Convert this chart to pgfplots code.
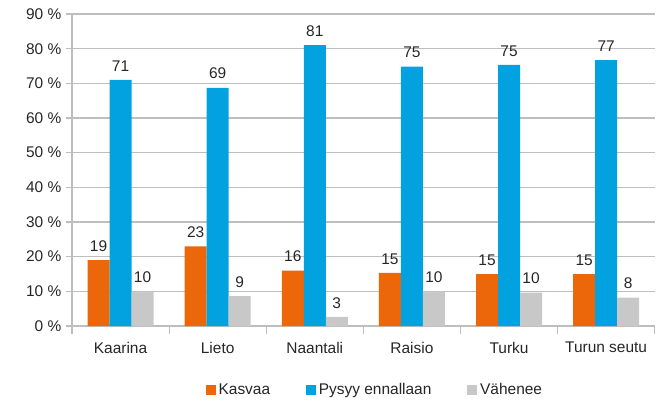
\documentclass[border=0pt]{standalone}
\usepackage{pgfplots}
\pgfplotsset{compat=1.18}
\usepackage{fontspec}
\setmainfont{Liberation Sans}
\definecolor{cOr}{RGB}{235,103,10}
\definecolor{cBl}{RGB}{2,162,224}
\definecolor{cGr}{RGB}{200,200,200}
\definecolor{cAx}{RGB}{190,190,190}
\begin{document}
\begin{tikzpicture}
\path[use as bounding box] (-54pt,-56.25pt) rectangle (441pt,244.5pt);
\begin{axis}[
  at={(0,0)}, anchor=south west,
  width=437pt, height=234pt, scale only axis,
  ybar=0pt, bar width=16.5pt,
  xmin=-0.5, xmax=5.5, ymin=0, ymax=90,
  axis lines*=left,
  axis line style={cAx, line width=0.8pt},
  xtick={0,...,5},
  xticklabels={Kaarina,Lieto,Naantali,Raisio,Turku,Turun seutu},
  major x tick style={draw=none},
  minor xtick={-0.5,0.5,...,5.5},
  minor x tick style={cAx, line width=0.8pt},
  minor tick length=6pt,
  xtick pos=bottom,
  x tick label style={yshift=-4pt},
  ytick={0,10,...,90},
  yticklabel={\pgfmathprintnumber{\tick}\ \%},
  /pgf/number format/assume math mode=true,
  y tick style={cAx, line width=0.8pt},
  major tick length=4.5pt,
  tick align=outside,
  ytick pos=left,
  ymajorgrids, grid style={cAx, line width=0.8pt},
  tick label style={font=\fontsize{11.6}{13}\selectfont, text=black!85},
  nodes near coords,
  every node near coord/.append style={font=\fontsize{11.6}{13}\selectfont, text=black!85, yshift=3pt},
  nodes near coords={\pgfmathprintnumber[fixed,precision=0]{\pgfplotspointmeta}},
  legend style={at={(0.5,-48pt)}, anchor=center, xshift=9pt, draw=none, legend columns=3,
    font=\fontsize{11.6}{13}\selectfont, text=black!85,
    /tikz/every even column/.append style={column sep=25pt}},
  legend image code/.code={\fill[#1] (0pt,-3.6pt) rectangle (7.5pt,3.9pt);},
]
\addplot[fill=cOr, draw=none] coordinates {(0,19) (1,23) (2,16) (3,15.3) (4,15) (5,15)};
\addplot[fill=cBl, draw=none] coordinates {(0,71) (1,68.7) (2,81) (3,74.8) (4,75.3) (5,76.7)};
\addplot[fill=cGr, draw=none] coordinates {(0,10) (1,8.6) (2,2.6) (3,10) (4,9.6) (5,8.2)};
\legend{Kasvaa,Pysyy ennallaan,Vähenee}
\end{axis}
\end{tikzpicture}
\end{document}
